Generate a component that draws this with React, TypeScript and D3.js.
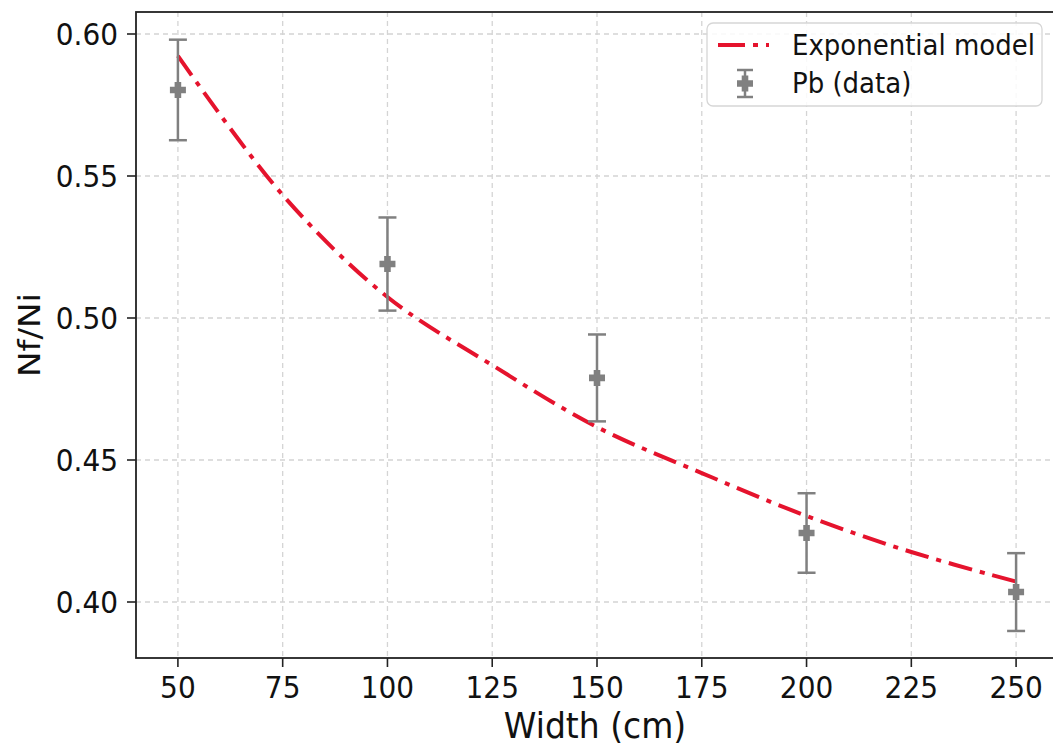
import React from "react";
import * as d3 from "d3";

const widths = [50, 100, 150, 200, 250];
const ratios = [0.5803, 0.519, 0.4789, 0.4243, 0.4035];
const errors = [0.0177, 0.0164, 0.0153, 0.014, 0.0137];
const modelX = [50, 75, 100, 125, 150, 175, 200, 225, 250];
const modelY = [0.5923, 0.5433, 0.5074, 0.4834, 0.4616, 0.4454, 0.4303, 0.4176, 0.4072];
const xTicks = [50, 75, 100, 125, 150, 175, 200, 225, 250];
const yTicks = [0.4, 0.45, 0.5, 0.55, 0.6];

const W = 1053, H = 745;
const L = 136, R = 1058, T = 12, B = 658;
const FONT = "DejaVu Sans, sans-serif";
const SY = 1.1;
const RED = "#e5132d";
const GRAY = "#808080";

function plusPath(cx: number, cy: number, s: number, a: number) {
  return `M${cx - a},${cy - s}H${cx + a}V${cy - a}H${cx + s}V${cy + a}H${cx + a}V${cy + s}H${cx - a}V${cy + a}H${cx - s}V${cy - a}H${cx - a}Z`;
}

function T2({ x, y, size, anchor, children, rotate }: any) {
  const tr = rotate
    ? `translate(${x},${y}) rotate(${rotate}) scale(${SY},1)`
    : `translate(${x},${y}) scale(1,${SY})`;
  return (
    <text transform={tr} fontSize={size} fontFamily={FONT} textAnchor={anchor || "start"} fill="#111">
      {children}
    </text>
  );
}

export default function App() {
  const x = d3.scaleLinear().domain([40, 260]).range([L, R]);
  const y = d3.scaleLinear().domain([0.4 - 56 / 2840, 0.6 + 22 / 2840]).range([B, T]);
  const line = d3
    .line<number>()
    .x((_, i) => x(modelX[i]))
    .y((d) => y(d))
    .curve(d3.curveCatmullRom);
  const dash = "24,8,5,8";
  return (
    <svg width={W} height={H} style={{ position: "absolute", left: 0, top: 0, background: "#fff" }}>
      <rect x={0} y={0} width={W} height={H} fill="#fff" />
      {xTicks.map((t) => (
        <line key={"gx" + t} x1={x(t)} x2={x(t)} y1={T} y2={B} stroke="#d4d4d4" strokeWidth={1.3} strokeDasharray="5,4" />
      ))}
      {yTicks.map((t) => (
        <line key={"gy" + t} x1={L} x2={R} y1={y(t)} y2={y(t)} stroke="#d4d4d4" strokeWidth={1.3} strokeDasharray="5,4" />
      ))}
      <path d={line(modelY) || ""} fill="none" stroke={RED} strokeWidth={4} strokeDasharray={dash} />
      {widths.map((w, i) => {
        const cx = x(w);
        const y1 = y(ratios[i] + errors[i]);
        const y2 = y(ratios[i] - errors[i]);
        return (
          <g key={"d" + w}>
            <line x1={cx} x2={cx} y1={y1} y2={y2} stroke={GRAY} strokeWidth={2.5} />
            <line x1={cx - 9} x2={cx + 9} y1={y1} y2={y1} stroke={GRAY} strokeWidth={2.5} />
            <line x1={cx - 9} x2={cx + 9} y1={y2} y2={y2} stroke={GRAY} strokeWidth={2.5} />
            <path d={plusPath(cx, y(ratios[i]), 8, 3.3)} fill={GRAY} />
          </g>
        );
      })}
      <rect x={L} y={T} width={R - L} height={B - T} fill="none" stroke="#222" strokeWidth={1.8} />
      {xTicks.map((t) => (
        <g key={"xt" + t}>
          <line x1={x(t)} x2={x(t)} y1={B} y2={B + 9} stroke="#222" strokeWidth={1.6} />
          <T2 x={x(t)} y={B + 40} size={28} anchor="middle">{String(t)}</T2>
        </g>
      ))}
      {yTicks.map((t) => (
        <g key={"yt" + t}>
          <line x1={L - 9} x2={L} y1={y(t)} y2={y(t)} stroke="#222" strokeWidth={1.6} />
          <T2 x={L - 18} y={y(t) + 11} size={28} anchor="end">{t.toFixed(2)}</T2>
        </g>
      ))}
      <T2 x={(L + R) / 2 - 2} y={738} size={33} anchor="middle">Width (cm)</T2>
      <T2 x={40} y={(T + B) / 2} size={31} anchor="middle" rotate={-90}>Nf/Ni</T2>
      <rect x={707} y={23} width={335} height={83} rx={6} fill="#fff" fillOpacity={0.85} stroke="#d6d6d6" strokeWidth={1.3} />
      <line x1={718} x2={769} y1={45} y2={45} stroke={RED} strokeWidth={4} strokeDasharray="27,8,5,8" />
      <T2 x={792} y={55} size={26}>Exponential model</T2>
      <line x1={745} x2={745} y1={70} y2={97} stroke={GRAY} strokeWidth={2.5} />
      <line x1={737} x2={753} y1={70} y2={70} stroke={GRAY} strokeWidth={2.5} />
      <line x1={737} x2={753} y1={97} y2={97} stroke={GRAY} strokeWidth={2.5} />
      <path d={plusPath(745, 83.5, 8, 3.3)} fill={GRAY} />
      <T2 x={792} y={93} size={26}>Pb (data)</T2>
    </svg>
  );
}
